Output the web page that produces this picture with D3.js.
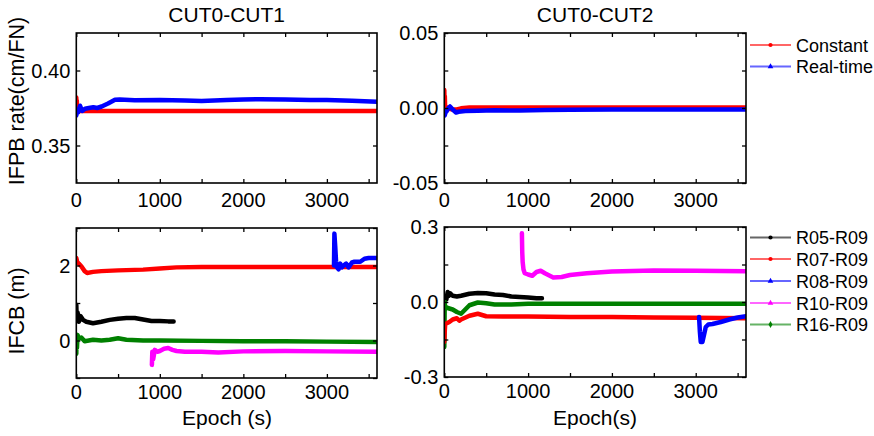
<!DOCTYPE html>
<html><head><meta charset="utf-8">
<script src="https://cdn.jsdelivr.net/npm/d3@7"></script>
<style>body{margin:0;background:#fff}svg{display:block;font-family:"Liberation Sans",Arial,sans-serif}</style>
</head><body>
<script>
// ---------- data ----------
const titles = ["CUT0-CUT1", "CUT0-CUT2"];
const topLegend = ["Constant", "Real-time"];
const botLegend = ["R05-R09", "R07-R09", "R08-R09", "R10-R09", "R16-R09"];

// top-left: CUT0-CUT1 IFPB rate
const tlConstT = [0, 3, 6, 10, 60, 3600];
const tlConstV = [0.382, 0.376, 0.380, 0.373, 0.373, 0.373];
const tlRealT = [0, 8, 20, 45, 70, 104, 150, 204, 250, 304, 380, 463, 520, 700, 1000, 1300, 1500, 1800, 2000, 2200, 2500, 2800, 3000, 3300, 3600];
const tlRealV = [0.370, 0.373, 0.372, 0.3765, 0.373, 0.3745, 0.375, 0.3755, 0.375, 0.376, 0.378, 0.3805, 0.3807, 0.3802, 0.3803, 0.3800, 0.3797, 0.3803, 0.3807, 0.3809, 0.3806, 0.3804, 0.3803, 0.3798, 0.3792];

// top-right: CUT0-CUT2 IFPB rate
const trConstT = [0, 3, 6, 10, 30, 60, 100, 150, 200, 300, 3600];
const trConstV = [0.012, 0.003, 0.008, 0.000, 0.0005, -0.0005, -0.001, -0.001, -0.0002, 0.0003, 0.0003];
const trRealT = [0, 5, 15, 30, 50, 68, 100, 140, 170, 250, 400, 600, 900, 1200, 1500, 2000, 2500, 3000, 3600];
const trRealV = [-0.004, -0.005, -0.003, -0.002, 0.000, 0.001, -0.001, -0.003, -0.0025, -0.002, -0.0018, -0.0015, -0.0017, -0.0013, -0.0012, -0.0010, -0.0010, -0.0010, -0.0010];

// bottom-left: CUT0-CUT1 IFCB
const blR05T = [0, 5, 15, 30, 50, 80, 120, 200, 300, 400, 500, 600, 700, 800, 900, 1000, 1100, 1165];
const blR05V = [0.95, 0.55, 0.75, 0.50, 0.65, 0.55, 0.50, 0.46, 0.50, 0.55, 0.58, 0.60, 0.60, 0.56, 0.52, 0.52, 0.51, 0.51];
const blR07T = [0, 10, 30, 60, 100, 130, 200, 300, 500, 800, 1000, 1200, 1500, 2000, 2500, 3000, 3600];
const blR07V = [2.20, 2.10, 2.05, 1.98, 1.85, 1.80, 1.83, 1.85, 1.87, 1.89, 1.92, 1.95, 1.96, 1.96, 1.96, 1.96, 1.96];
const blR08T = [3085, 3090, 3100, 3110, 3120, 3140, 3160, 3180, 3200, 3230, 3260, 3300, 3330, 3400, 3450, 3500, 3600];
const blR08V = [2.00, 2.85, 2.50, 2.10, 1.95, 1.90, 2.05, 1.95, 2.00, 2.05, 1.95, 2.08, 2.10, 2.10, 2.18, 2.20, 2.20];
const blR10T = [905, 910, 920, 940, 970, 1000, 1050, 1100, 1150, 1200, 1300, 1500, 1700, 2000, 2500, 3000, 3600];
const blR10V = [-0.65, -0.30, -0.50, -0.25, -0.30, -0.28, -0.22, -0.20, -0.25, -0.28, -0.30, -0.30, -0.32, -0.29, -0.28, -0.29, -0.30];
const blR16T = [0, 3, 8, 15, 30, 60, 100, 150, 200, 300, 400, 500, 600, 800, 1000, 1500, 2000, 2500, 3000, 3600];
const blR16V = [-0.35, 0.10, -0.20, 0.15, 0.05, 0.08, -0.02, 0.00, 0.02, 0.00, 0.02, 0.06, 0.02, 0.00, 0.00, -0.01, -0.02, -0.02, -0.03, -0.04];

// bottom-right: CUT0-CUT2 IFCB
const brR05T = [0, 10, 25, 40, 55, 70, 100, 150, 200, 300, 400, 500, 600, 700, 800, 900, 1000, 1100, 1165];
const brR05V = [0.000, 0.020, 0.010, 0.040, 0.025, 0.035, 0.025, 0.022, 0.025, 0.033, 0.036, 0.035, 0.030, 0.028, 0.022, 0.020, 0.018, 0.015, 0.015];
const brR07T = [0, 5, 10, 30, 60, 100, 150, 180, 200, 300, 400, 500, 700, 1000, 1500, 2000, 2500, 3000, 3600];
const brR07V = [-0.16, -0.12, -0.09, -0.085, -0.08, -0.07, -0.065, -0.075, -0.07, -0.055, -0.047, -0.057, -0.058, -0.058, -0.060, -0.060, -0.062, -0.063, -0.065];
const brR08T = [3040, 3050, 3060, 3080, 3100, 3120, 3150, 3200, 3300, 3400, 3500, 3600];
const brR08V = [-0.06, -0.12, -0.16, -0.16, -0.13, -0.10, -0.09, -0.088, -0.08, -0.07, -0.062, -0.057];
const brR10T = [926, 930, 935, 945, 960, 1000, 1050, 1100, 1150, 1200, 1300, 1400, 1500, 1700, 2000, 2500, 3000, 3600];
const brR10V = [0.275, 0.20, 0.16, 0.13, 0.115, 0.11, 0.105, 0.12, 0.125, 0.115, 0.098, 0.10, 0.108, 0.115, 0.122, 0.126, 0.125, 0.123];
const brR16T = [0, 5, 10, 20, 50, 100, 150, 200, 250, 300, 400, 500, 600, 800, 1000, 1500, 2000, 3000, 3600];
const brR16V = [-0.18, 0.00, -0.03, -0.02, -0.025, -0.03, -0.04, -0.047, -0.03, -0.013, -0.002, -0.005, -0.01, -0.01, -0.007, -0.007, -0.007, -0.007, -0.007];

const xTickLabels = [0, 1000, 2000, 3000];

// ---------- drawing ----------
const W = 874, H = 436;
const svg = d3.select("body").append("svg").attr("width", W).attr("height", H);
const zip = (t, v) => t.map((d, i) => [d, v[i]]);
const COL = {red: "#ff0000", blue: "#0000ff", black: "#000000", magenta: "#ff00ff", green: "#008000"};

function panel(o) {
  const g = svg.append("g");
  const x = d3.scaleLinear().domain([0, 3600]).range([o.x0, o.x1]);
  const y = d3.scaleLinear().domain(o.yDom).range([o.y1, o.y0]);
  const clipId = "c" + Math.round(o.x0) + "_" + Math.round(o.y0);
  svg.append("clipPath").attr("id", clipId).append("rect")
    .attr("x", o.x0).attr("y", o.y0).attr("width", o.x1 - o.x0).attr("height", o.y1 - o.y0);
  const line = d3.line().x(d => x(d[0])).y(d => y(d[1]));
  const lg = g.append("g").attr("clip-path", `url(#${clipId})`);
  o.series.forEach(s => {
    lg.append("path").attr("d", line(zip(s.t, s.v))).attr("fill", "none")
      .attr("stroke", s.c).attr("stroke-width", 4.5).attr("stroke-linejoin", "round").attr("stroke-linecap", "round");
  });
  // axes (ticks inward)
  const tl = 4;
  const xMinor = d3.range(0, 3601, 500);
  g.append("g").attr("transform", `translate(0,${o.y1})`)
    .call(d3.axisBottom(x).tickValues(xMinor).tickSize(-tl).tickFormat(""))
    .call(a => { a.select(".domain").remove(); a.selectAll("line").attr("stroke-width", 1.3); });
  g.append("g").attr("transform", `translate(0,${o.y0})`)
    .call(d3.axisTop(x).tickValues(xMinor).tickSize(-tl).tickFormat(""))
    .call(a => { a.select(".domain").remove(); a.selectAll("line").attr("stroke-width", 1.3); });
  g.append("g").attr("transform", `translate(${o.x0},0)`)
    .call(d3.axisLeft(y).tickValues(o.yTicks).tickSize(-tl).tickFormat(""))
    .call(a => { a.select(".domain").remove(); a.selectAll("line").attr("stroke-width", 1.3); });
  g.append("g").attr("transform", `translate(${o.x1},0)`)
    .call(d3.axisRight(y).tickValues(o.yTicks).tickSize(-tl).tickFormat(""))
    .call(a => { a.select(".domain").remove(); a.selectAll("line").attr("stroke-width", 1.3); });
  g.append("rect").attr("x", o.x0).attr("y", o.y0).attr("width", o.x1 - o.x0).attr("height", o.y1 - o.y0)
    .attr("fill", "none").attr("stroke", "#000").attr("stroke-width", 1.6);
  // tick labels
  xTickLabels.forEach(v => {
    g.append("text").attr("x", x(v)).attr("y", o.y1 + o.xlOff).attr("text-anchor", "middle")
      .attr("font-size", 20).text(v);
  });
  o.yLabels.forEach(v => {
    g.append("text").attr("x", o.x0 - 6).attr("y", y(v) + 7).attr("text-anchor", "end")
      .attr("font-size", 20).text(d3.format(o.yFmt)(v).replace("−", "-"));
  });
  return {x, y};
}

const TLx0 = 76.3, TLx1 = 377, TRx0 = 444.3, TRx1 = 746;

panel({x0: TLx0, x1: TLx1, y0: 33, y1: 183, yDom: [0.325, 0.425], yTicks: [0.35, 0.40], yLabels: [0.35, 0.40], yFmt: ".2f", xlOff: 24,
  series: [{t: tlConstT, v: tlConstV, c: COL.red}, {t: tlRealT, v: tlRealV, c: COL.blue}]});
panel({x0: TRx0, x1: TRx1, y0: 33, y1: 183, yDom: [-0.05, 0.05], yTicks: [-0.05, -0.025, 0, 0.025, 0.05], yLabels: [-0.05, 0, 0.05], yFmt: ".2f", xlOff: 24,
  series: [{t: trConstT, v: trConstV, c: COL.red}, {t: trRealT, v: trRealV, c: COL.blue}]});
panel({x0: TLx0, x1: TLx1, y0: 228, y1: 378, yDom: [-1, 3], yTicks: [-1, 0, 1, 2, 3], yLabels: [0, 2], yFmt: "d", xlOff: 21,
  series: [{t: blR07T, v: blR07V, c: COL.red}, {t: blR05T, v: blR05V, c: COL.black}, {t: blR10T, v: blR10V, c: COL.magenta},
           {t: blR16T, v: blR16V, c: COL.green}, {t: blR08T, v: blR08V, c: COL.blue}]});
panel({x0: TRx0, x1: TRx1, y0: 227, y1: 377, yDom: [-0.3, 0.3], yTicks: [-0.3, -0.15, 0, 0.15, 0.3], yLabels: [-0.3, 0, 0.3], yFmt: ".1f", xlOff: 21,
  series: [{t: brR05T, v: brR05V, c: COL.black}, {t: brR10T, v: brR10V, c: COL.magenta}, {t: brR16T, v: brR16V, c: COL.green},
           {t: brR07T, v: brR07V, c: COL.red}, {t: brR08T, v: brR08V, c: COL.blue}]});

// titles & axis labels
svg.append("text").attr("x", (TLx0 + TLx1) / 2).attr("y", 22).attr("text-anchor", "middle").attr("font-size", 21).text(titles[0]);
svg.append("text").attr("x", (TRx0 + TRx1) / 2).attr("y", 22).attr("text-anchor", "middle").attr("font-size", 21).text(titles[1]);
svg.append("text").attr("transform", "translate(24,101) rotate(-90)").attr("text-anchor", "middle").attr("font-size", 21.5).text("IFPB rate(cm/FN)");
svg.append("text").attr("transform", "translate(24,311) rotate(-90)").attr("text-anchor", "middle").attr("font-size", 21.5).text("IFCB (m)");
svg.append("text").attr("x", 227).attr("y", 425).attr("text-anchor", "middle").attr("font-size", 21).text("Epoch (s)");
svg.append("text").attr("x", 595).attr("y", 425).attr("text-anchor", "middle").attr("font-size", 21).text("Epoch(s)");

// legends
function legend(items, colors, shapes, ys) {
  items.forEach((name, i) => {
    const g = svg.append("g");
    g.append("line").attr("x1", 750).attr("x2", 791).attr("y1", ys[i]).attr("y2", ys[i])
      .attr("stroke", colors[i]).attr("stroke-width", 2).attr("stroke-opacity", 0.6);
    g.append("path").attr("transform", `translate(770.5,${ys[i]})`)
      .attr("d", d3.symbol().type(shapes[i]).size(14)).attr("fill", colors[i]);
    g.append("text").attr("x", 796).attr("y", ys[i] + 6.5).attr("font-size", 18).text(name);
  });
}
legend(topLegend, [COL.red, COL.blue], [d3.symbolCircle, d3.symbolTriangle], [45, 66.5]);
legend(botLegend, [COL.black, COL.red, COL.blue, COL.magenta, COL.green],
  [d3.symbolCircle, d3.symbolCircle, d3.symbolTriangle, d3.symbolTriangle, d3.symbolDiamond], [237.5, 259, 281, 303, 324.5]);
</script>
</body></html>
